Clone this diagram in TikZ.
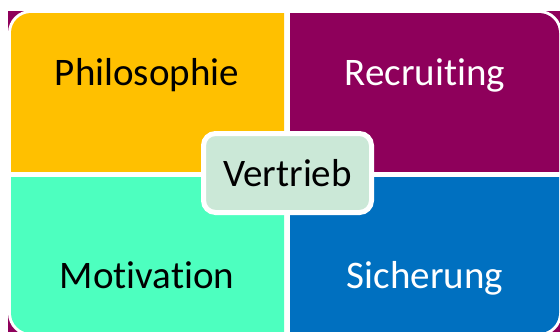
\documentclass[tikz,border=0pt]{standalone}
\usepackage{fontspec}
\setmainfont{Carlito}[Ligatures=NoCommon]
\usepackage{tikz}
\definecolor{mxGold}{HTML}{FFC000}
\definecolor{mxPlum}{HTML}{8E005B}
\definecolor{mxMint}{HTML}{4DFFBF}
\definecolor{mxBlue}{HTML}{0070C0}
\definecolor{mxSage}{HTML}{CBE8D7}
\tikzset{
  quadlabel/.style={anchor=base,font=\fontsize{39}{47}\selectfont},
  hubbox/.style={draw=white,line width=5pt,fill=mxSage,rounded corners=12pt,
    minimum width=168pt,minimum height=79pt,inner sep=0pt,
    font=\fontsize{39}{47}\selectfont}
}

\begin{document}
\begin{tikzpicture}[x=1pt,y=-1pt]
\useasboundingbox (0,0) rectangle (560,332);
\clip (0,0) rectangle (560,332);
% backdrop and white rim
\fill[mxPlum] (8,11) rectangle (600,380);
\fill[white,rounded corners=23pt] (8,10) rectangle (562,336);
% the four fields, cut out of one rounded block
\foreach \xa/\ya/\xb/\yb/\col in {11/13/284/171/mxGold, 290/13/559/171/mxPlum,
    11/177/284/333/mxMint, 290/177/559/333/mxBlue}{
  \begin{scope}
    \clip (\xa,\ya) rectangle (\xb,\yb);
    \fill[\col,rounded corners=20pt] (11,13) rectangle (559,333);
  \end{scope}
}
\node[quadlabel] (philo) at (147,85) {Philosophie};
\node[quadlabel,text=white] (recruit) at (425,85) {Recruiting};
\node[quadlabel] (motiv) at (147,288) {Motivation};
\node[quadlabel,text=white] (sicher) at (425,288) {Sicherung};
% centre box
\node[hubbox] (vertrieb) at (287.5,173) {Vertrieb};
\end{tikzpicture}
\end{document}
